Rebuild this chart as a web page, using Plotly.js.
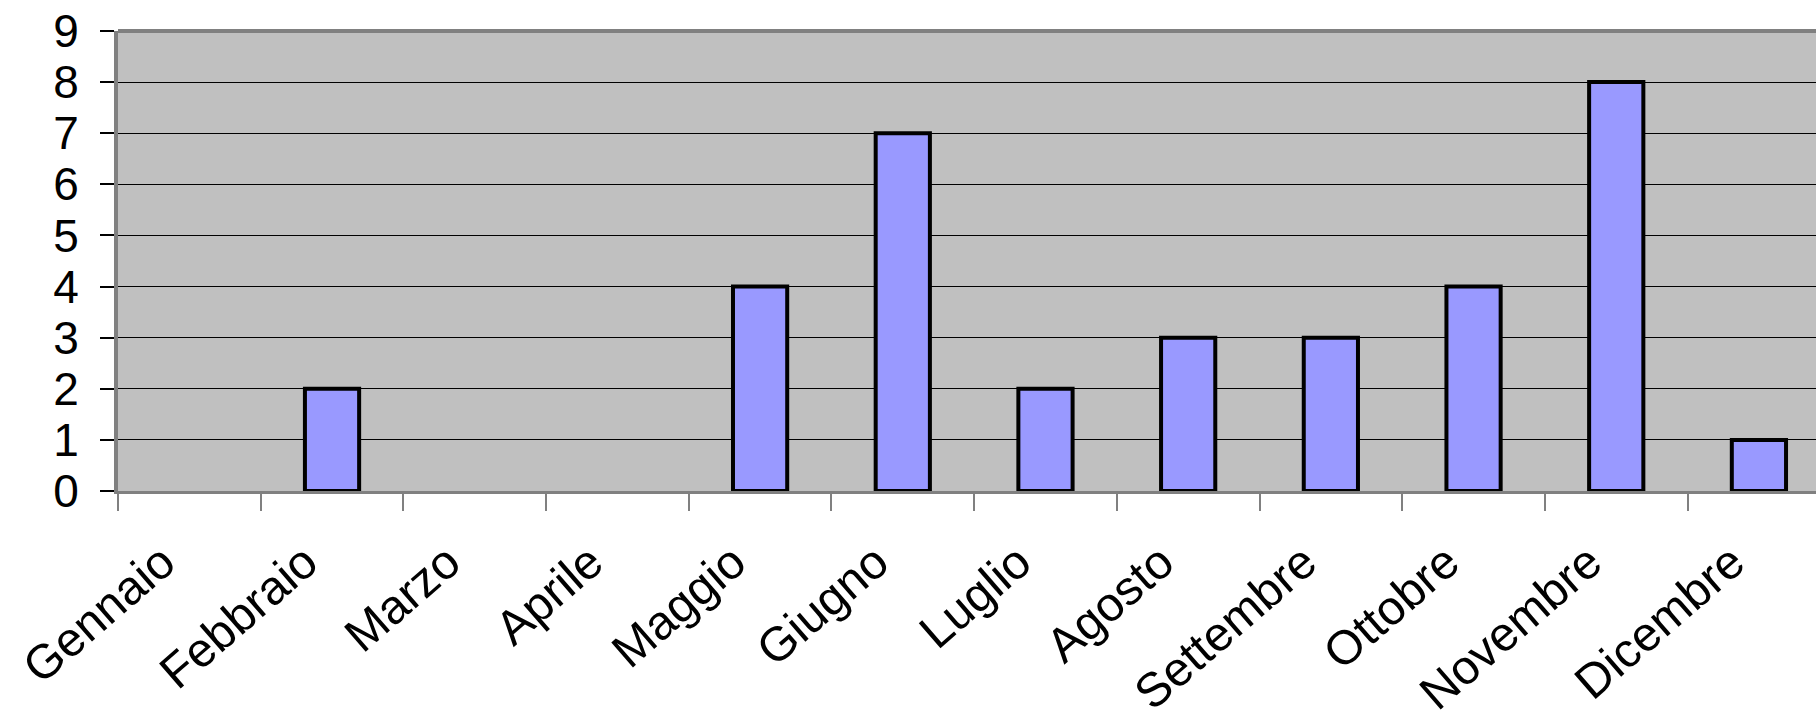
<!DOCTYPE html>
<html>
<head>
<meta charset="utf-8">
<script src="https://cdn.plot.ly/plotly-3.0.1.min.js"></script>
<style>html,body{margin:0;padding:0;background:#fff;}#chart{width:1816px;height:713px;}</style>
</head>
<body>
<div id="chart"></div>
<script>
const months = ["Gennaio","Febbraio","Marzo","Aprile","Maggio","Giugno","Luglio","Agosto","Settembre","Ottobre","Novembre","Dicembre"];
const counts = [0, 2, 0, 0, 4, 7, 2, 3, 3, 4, 8, 1];
const yTicks = [0,1,2,3,4,5,6,7,8,9];

const trace = {
  type: 'bar',
  x: months,
  y: counts,
  width: 0.38,
  marker: {color: '#9999FF', line: {color: '#000000', width: counts.map(v => v > 0 ? 4 : 0)}},
  hoverinfo: 'x+y'
};

const layout = {
  width: 1816,
  height: 713,
  margin: {l: 118, r: 0, t: 31, b: 222, pad: 0},
  paper_bgcolor: '#FFFFFF',
  plot_bgcolor: '#C0C0C0',
  showlegend: false,
  font: {family: 'Arial, "Liberation Sans", sans-serif', color: '#000000', size: 46},
  xaxis: {
    type: 'category',
    range: [-0.5, 11.4],
    showline: true, linecolor: '#808080', linewidth: 3,
    ticks: 'outside', tickson: 'boundaries', ticklen: 17, tickcolor: '#808080', tickwidth: 2,
    tickangle: -41,
    tickfont: {size: 48},
    ticklabelstandoff: 21,
    ticklabelshift: -27,
    showgrid: false, zeroline: false,
    fixedrange: true
  },
  yaxis: {
    range: [0, 9],
    tickvals: yTicks,
    ticktext: yTicks.map(String),
    showline: true, linecolor: '#808080', linewidth: 4,
    ticks: 'outside', ticklen: 14, tickcolor: '#000000', tickwidth: 2,
    tickfont: {size: 46},
    ticklabelstandoff: 12,
    showgrid: true, gridcolor: '#000000', gridwidth: 1,
    zeroline: false,
    fixedrange: true
  },
  shapes: [
    {type: 'line', xref: 'paper', yref: 'paper', x0: 0, x1: 1, y0: 1, y1: 1, line: {color: '#808080', width: 4}, layer: 'above'}
  ]
};

Plotly.newPlot('chart', [trace], layout, {displayModeBar: false, staticPlot: true});
</script>
</body>
</html>
